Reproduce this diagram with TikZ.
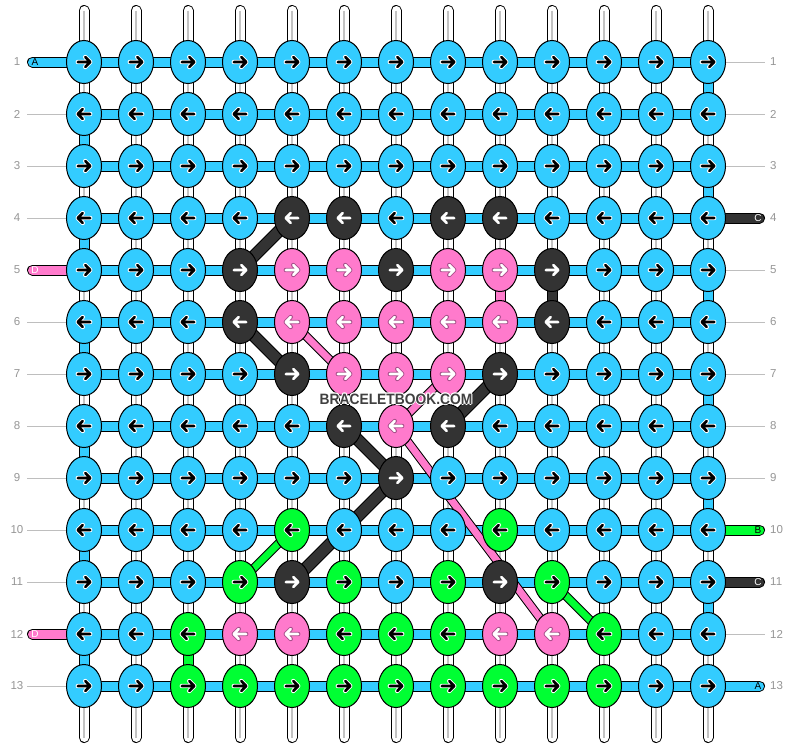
\documentclass[tikz,border=0pt]{standalone}
\usepackage{fontspec}
\setmainfont{Liberation Sans}
\usetikzlibrary{shapes.geometric,backgrounds}
\definecolor{cb}{RGB}{51,204,255}
\definecolor{cp}{RGB}{255,122,204}
\definecolor{ck}{RGB}{51,51,51}
\definecolor{cg}{RGB}{0,255,51}
\definecolor{labgray}{RGB}{150,150,150}
\definecolor{linegray}{RGB}{190,190,190}
\definecolor{strandgray}{RGB}{195,195,195}
\definecolor{wmgray}{RGB}{64,64,64}
\colorlet{arrb}{black}\colorlet{arrg}{black}\colorlet{arrk}{white}\colorlet{arrp}{white}
\colorlet{halob}{white}\colorlet{halog}{white}\colorlet{halok}{ck}\definecolor{halop}{RGB}{170,80,140}
\tikzset{
 knot/.style={ellipse, draw=black, line width=1, minimum width=35, minimum height=43, inner sep=0},
 band/.style={draw=black, line width=1, double distance=9},
 thickdiag/.style={draw=black, line width=1, double distance=10.5},
 thindiag/.style={draw=black, line width=1, double distance=7},
 rowlab/.style={text=labgray, inner sep=0, font=\fontsize{11.5}{12}\selectfont},
 taillab/.style={inner sep=0, font=\fontsize{10}{10}\selectfont},
 guide/.style={draw=linegray, line width=0.8},
 wmark/.style={inner sep=0, font=\bfseries\fontsize{15}{15}\selectfont},
}
\begin{document}
\begin{tikzpicture}[x=1pt,y=-1pt]
\useasboundingbox (0,0) rectangle (792,748);
% knots
\foreach \r/\cols in {
 1/{b,b,b,b,b,b,b,b,b,b,b,b,b},
 2/{b,b,b,b,b,b,b,b,b,b,b,b,b},
 3/{b,b,b,b,b,b,b,b,b,b,b,b,b},
 4/{b,b,b,b,k,k,b,k,k,b,b,b,b},
 5/{b,b,b,k,p,p,k,p,p,k,b,b,b},
 6/{b,b,b,k,p,p,p,p,p,k,b,b,b},
 7/{b,b,b,b,k,p,p,p,k,b,b,b,b},
 8/{b,b,b,b,b,k,p,k,b,b,b,b,b},
 9/{b,b,b,b,b,b,k,b,b,b,b,b,b},
 10/{b,b,b,b,g,b,b,b,g,b,b,b,b},
 11/{b,b,b,g,k,g,b,g,k,g,b,b,b},
 12/{b,b,g,p,p,g,g,g,p,p,g,b,b},
 13/{b,b,g,g,g,g,g,g,g,g,g,b,b}}{
 \foreach \k [count=\c] in \cols {
  \node[knot, fill=c\k] (k\r-\c) at ({84+52*(\c-1)},{62+52*(\r-1)}) {};
  \pgfmathsetmacro\sg{1-2*mod(\r+1,2)}
  \begin{scope}[shift={(k\r-\c.center)},xscale=\sg]
   \draw[draw=halo\k, line width=4.4, line cap=round, line join=round]
     (-6.2,0) -- (6.2,0) (1.2,-5) -- (6.2,0) -- (1.2,5);
   \draw[draw=arr\k, line width=2.6, line cap=round, line join=round]
     (-6.2,0) -- (6.2,0) (1.2,-5) -- (6.2,0) -- (1.2,5);
  \end{scope}
 }
}
% row labels
\foreach \r in {1,...,13} {
 \node[rowlab] (ll\r) at (17,{62+52*(\r-1)}) {\r};
 \node[rowlab, anchor=west] (rl\r) at (770,{62+52*(\r-1)}) {\r};
}
\begin{pgfonlayer}{background}
\fill[white] (0,0) rectangle (792,748);
% warp strands
\foreach \c in {1,...,13} {
 \coordinate (st\c) at ({84+52*(\c-1)},10.5);
 \coordinate (sb\c) at ({84+52*(\c-1)},737.5);
 \draw[band, double=white, line cap=round] (st\c) -- (sb\c);
 \draw[draw=strandgray, line width=1.3] (st\c) -- (sb\c);
}
% row bands
\foreach \r in {1,...,13}
 \draw[band, double=cb] (k\r-1.center) -- (k\r-13.center);
% edge turns
\foreach \a/\b in {1/2,3/4,5/6,7/8,9/10,11/12}
 \draw[band, double=cb] (k\a-13.center) -- (k\b-13.center);
\foreach \a/\b in {2/3,4/5,6/7,8/9,10/11,12/13}
 \draw[band, double=cb] (k\a-1.center) -- (k\b-1.center);
% coloured verticals
\draw[band, double=cp] (k5-9.center) -- (k6-9.center);
\draw[band, double=ck] (k5-10.center) -- (k6-10.center);
\draw[band, double=cg] (k12-3.center) -- (k13-3.center);
% diagonals
\draw[thickdiag, double=ck] (k5-4.center) -- (k4-5.center);
\draw[thickdiag, double=ck] (k6-4.center) -- (k7-5.center);
\draw[thickdiag, double=ck] (k8-6.center) -- (k9-7.center);
\draw[thickdiag, double=ck] (k9-7.center) -- (k11-5.center);
\draw[thickdiag, double=ck] (k7-9.center) -- (k8-8.center);
\draw[thindiag, double=cp] (k6-5.center) -- (k7-6.center);
\draw[thindiag, double=cp] (k7-8.center) -- (k8-7.center);
\draw[thindiag, double=cp] (k8-7.center) -- (k12-10.center);
\draw[thindiag, double=cg] (k11-4.center) -- (k10-5.center);
\draw[thindiag, double=cg] (k11-10.center) -- (k12-11.center);
% guide lines
\foreach \r in {2,3,4,6,7,8,9,10,11,13} {
 \coordinate (gl\r) at (27,{62+52*(\r-1)});
 \draw[guide] (gl\r) -- (k\r-1.west);
}
\foreach \r in {1,2,3,5,6,7,8,9,12} {
 \coordinate (gr\r) at (765,{62+52*(\r-1)});
 \draw[guide] (k\r-13.east) -- (gr\r);
}
% tails
\foreach \r/\bcol/\lbl/\lcol in {1/cb/A/black,5/cp/D/white,12/cp/D/white} {
 \coordinate (tl\r) at (32.5,{62+52*(\r-1)});
 \draw[band, double=\bcol, line cap=round] (tl\r) -- (k\r-1.center);
 \node[taillab, text=\lcol] (tlt\r) at (35,{62+52*(\r-1)}) {\lbl};
}
\foreach \r/\bcol/\lbl/\lcol in {4/ck/C/white,10/cg/B/black,11/ck/C/white,13/cb/A/black} {
 \coordinate (tr\r) at (759.5,{62+52*(\r-1)});
 \draw[band, double=\bcol, line cap=round] (k\r-13.center) -- (tr\r);
 \node[taillab, text=\lcol] (trt\r) at (758,{62+52*(\r-1)}) {\lbl};
}
\end{pgfonlayer}
% watermark
\foreach \dx/\dy [count=\i] in {1/0,-1/0,0/1,0/-1,0.8/0.8,-0.8/0.8,0.8/-0.8,-0.8/-0.8}
 \node[wmark, text=white] (wmh\i) at ({396+\dx},{399+\dy}) {\scalebox{0.92}[1]{BRACELETBOOK.COM}};
\node[wmark, text=wmgray] (wm) at (396,399) {\scalebox{0.92}[1]{BRACELETBOOK.COM}};
\end{tikzpicture}
\end{document}
